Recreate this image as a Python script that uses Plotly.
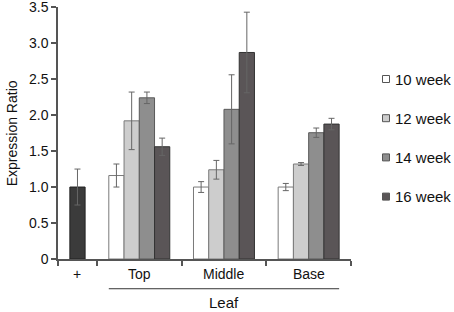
import plotly.graph_objects as go

# ---- data ----
groups = ["Top", "Middle", "Base"]
series_names = ["10 week", "12 week", "14 week", "16 week"]
week10 = [1.16, 1.00, 1.00]
week12 = [1.92, 1.24, 1.32]
week14 = [2.24, 2.08, 1.755]
week16 = [1.56, 2.87, 1.875]
err10 = [0.16, 0.075, 0.05]
err12 = [0.40, 0.13, 0.02]
err14 = [0.08, 0.48, 0.065]
err16 = [0.12, 0.56, 0.08]
control_label = "+"
control_value = [1.0]
control_err = [0.25]
y_ticks = [0, 0.5, 1.0, 1.5, 2.0, 2.5, 3.0, 3.5]
y_ticktext = ["0", "0.5", "1.0", "1.5", "2.0", "2.5", "3.0", "3.5"]
group_title = "Leaf"
y_title = "Expression Ratio"

# ---- layout helpers ----
W, H = 454, 312
ML, MR, MT, MB = 58, 103, 7, 53
PW, PH = W - ML - MR, H - MT - MB
plus_width = 0.46
group_width = 1.0
bar_w = 0.18
values = [week10, week12, week14, week16]
errors = [err10, err12, err14, err16]
fills = ["#ffffff", "#cdcdcd", "#8e8e8e", "#5a5557"]
outlines = ["#7a7a7a", "#7a7a7a", "#5a5a5a", "#333333"]

edges = [0, plus_width]
for g in groups:
    edges.append(edges[-1] + group_width)
centers = [(edges[i] + edges[i + 1]) / 2 for i in range(len(edges) - 1)]
group_centers = centers[1:]

def px_x(px):
    return (px - ML) / PW

def px_y(py):
    return (H - MB - py) / PH

font = "Liberation Sans, Arial, Helvetica, sans-serif"
fig = go.Figure()

fig.add_trace(go.Bar(
    x=[centers[0]], y=control_value, width=bar_w,
    marker=dict(color="#3b3b3b", line=dict(color="#222222", width=1)),
    error_y=dict(type="data", array=control_err, color="#666666", thickness=1, width=3),
    showlegend=False,
))

for i, name in enumerate(series_names):
    xs = [c + (i - 1.5) * bar_w for c in group_centers]
    fig.add_trace(go.Bar(
        x=xs, y=values[i], width=bar_w, name=name, showlegend=False,
        marker=dict(color=fills[i], line=dict(color=outlines[i], width=1)),
        error_y=dict(type="data", array=errors[i], color="#666666", thickness=1, width=3),
    ))

# legend (drawn to match the reference's compact layout)
leg_y0, leg_dy = 79, 39.2
for i, name in enumerate(series_names):
    cy = leg_y0 + i * leg_dy
    fig.add_shape(type="rect", xref="paper", yref="paper",
                  x0=px_x(382.5), x1=px_x(389.5), y0=px_y(cy + 3.5), y1=px_y(cy - 3.5),
                  fillcolor=fills[i], line=dict(color="#555555", width=1))
    fig.add_annotation(x=px_x(392.5), y=px_y(cy), xref="paper", yref="paper",
                       text=name, showarrow=False, xanchor="left", yanchor="middle",
                       font=dict(size=15, color="#111111", family=font))

# category labels
for lab, cx in zip([control_label] + groups, centers):
    fig.add_annotation(x=cx, y=-0.06, xref="x", yref="paper", text=lab,
                       showarrow=False, font=dict(size=14, color="#111111", family=font),
                       yanchor="middle")

# Leaf bracket
x_left = group_centers[0] - 2 * bar_w
x_right = group_centers[-1] + 2 * bar_w
fig.add_shape(type="line", xref="x", yref="paper", x0=x_left, x1=x_right,
              y0=-0.118, y1=-0.118, line=dict(color="#333333", width=1))
fig.add_annotation(x=(x_left + x_right) / 2, y=-0.172, xref="x", yref="paper",
                   text=group_title, showarrow=False,
                   font=dict(size=15, color="#111111", family=font), yanchor="middle")

# y title
fig.add_annotation(x=-0.156, y=0.5, xref="paper", yref="paper", text=y_title,
                   textangle=-90, showarrow=False, xanchor="center", yanchor="middle",
                   font=dict(size=14, color="#111111", family=font))

fig.update_layout(
    width=W, height=H,
    margin=dict(l=ML, r=MR, t=MT, b=MB, autoexpand=False),
    paper_bgcolor="white", plot_bgcolor="white",
    barmode="overlay", showlegend=False,
    font=dict(family=font, size=13, color="#111111"),
    xaxis=dict(range=[edges[0], edges[-1]], tickvals=edges, showticklabels=False,
               ticks="outside", ticklen=5, tickcolor="#555555", tickwidth=1.5,
               showline=True, linecolor="#555555", linewidth=1.5,
               showgrid=False, zeroline=False, automargin=False),
    yaxis=dict(range=[0, 3.502], tickvals=y_ticks, ticktext=y_ticktext,
               ticks="outside", ticklen=5, tickcolor="#555555", tickwidth=1.5,
               showline=True, linecolor="#555555", linewidth=1.5,
               showgrid=False, zeroline=False, automargin=False,
               ticklabeloverflow="allow", tickfont=dict(size=14)),
)

fig.write_html("out.html", config={"displayModeBar": False},
               post_script="document.body.style.margin='0';")
